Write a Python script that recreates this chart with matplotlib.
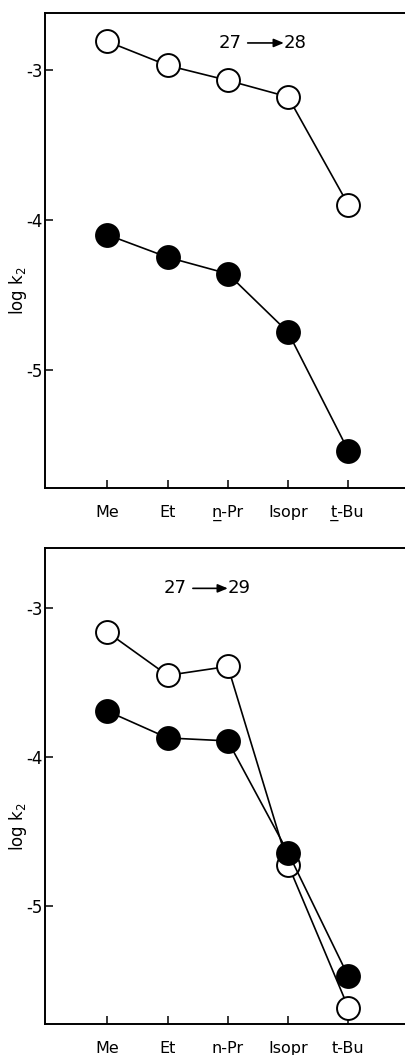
import numpy as np, matplotlib; matplotlib.use('Agg')
import matplotlib.pyplot as plt

plt.rcParams['font.family'] = ['DejaVu Sans']

groups = ['Me', 'Et', 'n-Pr', 'Isopr', 't-Bu']
labels_top = ['Me', 'Et', 'n\u0332-Pr', 'Isopr', 't\u0332-Bu']
labels_bot = ['Me', 'Et', 'n-Pr', 'Isopr', 't-Bu']
yticks = [-3, -4, -5]
ytick_labels = ['-3', '-4', '-5']

# panel 1: 27 -> 28
open_28 = [-2.81, -2.97, -3.07, -3.18, -3.90]
filled_28 = [-4.10, -4.25, -4.36, -4.75, -5.54]
# panel 2: 27 -> 29
open_29 = [-3.16, -3.45, -3.39, -4.72, -5.68]
filled_29 = [-3.69, -3.87, -3.89, -4.64, -5.47]

fig = plt.figure(figsize=(4.06, 10.55), dpi=100)
ax1 = fig.add_axes([0.111, 0.5374, 0.889, 0.4503])
ax2 = fig.add_axes([0.111, 0.0294, 0.889, 0.4509])

x = np.arange(len(groups))
ms, mew, lw = 16.5, 1.4, 1.2

def panel(ax, op, fi, ylim, xlabels, txt, ty, tx):
    ax.plot(x, op, '-o', color='k', lw=lw, ms=ms, mfc='white', mec='k', mew=mew, clip_on=False)
    ax.plot(x, fi, '-o', color='k', lw=lw, ms=ms, mfc='k', mec='k', mew=mew, clip_on=False)
    ax.set_xlim(-1.034, 4.958); ax.set_ylim(*ylim)
    ax.set_xticks(x); ax.set_xticklabels(xlabels, fontsize=11.5)
    ax.set_yticks(yticks); ax.set_yticklabels(ytick_labels, fontsize=12)
    ax.tick_params(axis='x', direction='in', length=6, width=1.1, pad=12)
    ax.tick_params(axis='y', direction='in', length=6, width=1.1, pad=2)
    ax.spines['right'].set_visible(False)
    for s in ['left', 'top', 'bottom']:
        ax.spines[s].set_linewidth(1.4)
    ax.set_ylabel('log k$_2$', fontsize=12)
    ax.yaxis.set_label_coords(-0.045, 0.415)
    ax.text(tx[0], ty, txt[0], ha='center', va='center', fontsize=13)
    ax.text(tx[3], ty, txt[1], ha='center', va='center', fontsize=13)
    ax.annotate('', xy=(tx[2], ty), xytext=(tx[1], ty),
                arrowprops=dict(arrowstyle='-|>,head_length=0.6,head_width=0.25', color='k', lw=1.2,
                                shrinkA=0, shrinkB=0))

panel(ax1, open_28, filled_28, (-5.79, -2.62), labels_top, ('27', '28'), -2.82, (2.04, 2.33, 2.93, 3.11))
panel(ax2, open_29, filled_29, (-5.79, -2.597), labels_bot, ('27', '29'), -2.866, (1.12, 1.42, 2.00, 2.18))

fig.savefig('out.png', dpi=100)
